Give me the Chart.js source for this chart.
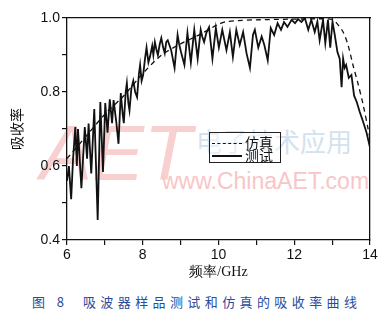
<!DOCTYPE html>
<html>
<head>
<meta charset="utf-8">
<script src="https://cdn.jsdelivr.net/npm/chart.js@4"></script>
<style>
  body { margin: 0; background: #fff; }
  #wrap { position: relative; width: 391px; height: 319px; overflow: hidden; }
  #chart { position: absolute; left: 0; top: 0; }
  .wm { position: absolute; white-space: nowrap; }
  #legend {
    position: absolute; left: 209px; top: 132px; width: 70px; height: 29px;
    border: 1px solid #222; background: rgba(255,255,255,0.5);
    font-family: "Noto Sans CJK SC", serif; font-size: 14px; color: #111;
  }
  #legend .row { position: absolute; left: 2px; width: 66px; height: 14px; }
  #legend .dash { position: absolute; left: 0; width: 30px; border-top: 1.5px dashed #111; }
  #legend .solid { position: absolute; left: 0; width: 30px; border-top: 2.5px solid #111; }
  #legend .txt { position: absolute; left: 33px; top: -10px; white-space: nowrap; line-height: 18px; }
  #caption {
    position: absolute; left: 32px; top: 292px; white-space: nowrap;
    font-family: "Noto Sans CJK SC", sans-serif; font-size: 13px;
    letter-spacing: 4.4px; color: #2a4c9a;
  }
</style>
</head>
<body>
<div id="wrap">
  <div class="wm" style="left:40px;top:108px;font:italic 78px 'Liberation Sans';color:#f8d0d0;">AET</div>
  <div class="wm" style="left:196px;top:122px;font:26px 'Noto Sans CJK SC';color:#d3e2ef;">电子技术应用</div>
  <div class="wm" style="left:162px;top:168px;font:23px 'Liberation Sans';color:#f8c6c6;">www.ChinaAET.com</div>
  <canvas id="chart" width="391" height="285"></canvas>
  <div id="legend">
    <div class="row" style="top:10px;"><span class="dash" style="top:0;"></span><span class="txt">仿真</span></div>
    <div class="row" style="top:23px;"><span class="solid" style="top:-1px;"></span><span class="txt">测试</span></div>
  </div>
  <div id="caption">图 8&nbsp;&nbsp;吸波器样品测试和仿真的吸收率曲线</div>
</div>
<script>
// measured absorption (freq GHz, value)
const measFreq = [6.00, 6.05, 6.11, 6.16, 6.22, 6.26, 6.29, 6.38, 6.47, 6.53, 6.57, 6.64, 6.72, 6.81, 6.88, 6.95,
  7.01, 7.07, 7.13, 7.19, 7.23, 7.30, 7.36, 7.42, 7.47, 7.50, 7.55, 7.58, 7.62, 7.65, 7.70, 7.75, 7.80, 7.85, 7.90, 7.93, 7.97,
  8.01, 8.06, 8.10, 8.15, 8.19, 8.25, 8.28, 8.32, 8.36, 8.40, 8.45, 8.49, 8.54, 8.58, 8.62, 8.66, 8.71, 8.75, 8.84, 8.92,
  8.96, 9.01, 9.10, 9.18, 9.27, 9.36, 9.45, 9.53, 9.57, 9.62, 9.68, 9.75, 9.84, 9.93,
  10.01, 10.10, 10.21, 10.30, 10.38, 10.47, 10.56, 10.65, 10.74, 10.83, 10.91, 10.96,
  11.05, 11.14, 11.21, 11.30, 11.38, 11.47, 11.56, 11.65, 11.73, 11.82, 11.93,
  12.02, 12.10, 12.19, 12.28, 12.37, 12.45, 12.54, 12.61, 12.67, 12.76, 12.82, 12.89, 12.95,
  13.01, 13.07, 13.14, 13.20, 13.25, 13.29, 13.33, 13.37, 13.44, 13.51, 13.58, 13.65, 13.73, 13.82, 13.91, 14.00];
const measVal = [0.56, 0.60, 0.51, 0.62, 0.705, 0.60, 0.70, 0.54, 0.705, 0.62, 0.715, 0.58, 0.754, 0.454, 0.773, 0.584,
  0.77, 0.69, 0.78, 0.716, 0.778, 0.72, 0.66, 0.797, 0.74, 0.716, 0.80, 0.824, 0.77, 0.75, 0.81, 0.83, 0.80, 0.786, 0.85, 0.873, 0.83,
  0.846, 0.89, 0.92, 0.88, 0.895, 0.925, 0.90, 0.935, 0.915, 0.90, 0.93, 0.946, 0.92, 0.905, 0.935, 0.94, 0.925, 0.913, 0.865, 0.954,
  0.93, 0.908, 0.873, 0.96, 0.88, 0.968, 0.89, 0.968, 0.95, 0.935, 0.96, 0.975, 0.89, 0.973,
  0.92, 0.968, 0.913, 0.962, 0.895, 0.968, 0.927, 0.962, 0.905, 0.865, 0.954, 0.968,
  0.92, 0.95, 0.927, 0.886, 0.973, 0.954, 0.986, 0.968, 0.989, 0.976, 0.995,
  0.986, 0.997, 0.989, 1.0, 0.968, 0.995, 0.962, 0.99, 0.94, 0.995, 0.932, 0.995, 0.92,
  0.99, 0.954, 0.908, 0.89, 0.813, 0.89, 0.865, 0.873, 0.838, 0.846, 0.79, 0.773, 0.746, 0.719, 0.69, 0.65];

// simulated absorption
const simFreq = [6.0, 6.5, 7.0, 7.5, 8.0, 8.5, 9.0, 9.5, 10.0, 10.2, 10.5, 11.0, 12.0, 12.8, 13.0,
  13.12, 13.29, 13.42, 13.55, 13.69, 13.82, 13.95, 14.0];
const simVal = [0.62, 0.68, 0.74, 0.79, 0.85, 0.90, 0.93, 0.955, 0.983, 0.99, 0.993, 0.995, 0.997, 0.998, 0.996,
  0.986, 0.962, 0.927, 0.873, 0.82, 0.765, 0.70, 0.675];

const xTicks = [6, 8, 10, 12, 14];
const yTicks = [0.4, 0.6, 0.8, 1.0];

const toPts = (xs, ys) => xs.map((x, i) => ({ x: x, y: ys[i] }));
const tickFont = { family: 'Liberation Sans', size: 14 };

new Chart(document.getElementById('chart'), {
  type: 'line',
  data: {
    datasets: [
      { label: '测试', data: toPts(measFreq, measVal), borderColor: '#111', borderWidth: 1.8,
        pointRadius: 0, tension: 0, fill: false },
      { label: '仿真', data: toPts(simFreq, simVal), borderColor: '#111', borderWidth: 1.3,
        borderDash: [5, 4], pointRadius: 0, tension: 0.3, fill: false }
    ]
  },
  options: {
    responsive: false,
    animation: false,
    layout: { padding: { top: 18, right: 21, left: 0, bottom: 0 } },
    plugins: { legend: { display: false }, tooltip: { enabled: false } },
    scales: {
      x: {
        type: 'linear', min: 6, max: 14,
        afterFit: s => { s.height = 45; },
        border: { color: '#111', width: 1.3 },
        grid: { drawOnChartArea: false, tickLength: 5, color: '#111', lineWidth: 1.2 },
        ticks: { stepSize: 1, padding: 2, color: '#111', font: tickFont, maxRotation: 0,
          callback: v => xTicks.includes(v) ? String(v) : '' },
        title: { display: true, text: '频率/GHz', color: '#111', padding: { top: 0, bottom: 4 },
          font: { family: 'Liberation Serif', size: 14 } }
      },
      y: {
        min: 0.4, max: 1.0,
        afterFit: s => { s.width = 67; },
        border: { color: '#111', width: 1.3 },
        grid: { drawOnChartArea: false, tickLength: 5, color: '#111', lineWidth: 1.2 },
        ticks: { stepSize: 0.1, padding: 2, color: '#111', font: tickFont,
          callback: v => yTicks.some(t => Math.abs(t - v) < 1e-6) ? v.toFixed(1) : '' },
        title: { display: true, text: '吸收率', color: '#111', padding: { top: 8, bottom: 0 },
          font: { family: 'Noto Sans CJK SC', size: 14 } }
      },
      x2: {
        type: 'linear', position: 'top', min: 6, max: 14,
        afterFit: s => { s.height = 0; },
        border: { color: '#111', width: 1.3 },
        grid: { display: false }, ticks: { display: false }
      },
      y2: {
        type: 'linear', position: 'right', min: 0.4, max: 1.0,
        afterFit: s => { s.width = 0; },
        border: { color: '#111', width: 1.3 },
        grid: { display: false }, ticks: { display: false }
      }
    }
  }
});
</script>
</body>
</html>
